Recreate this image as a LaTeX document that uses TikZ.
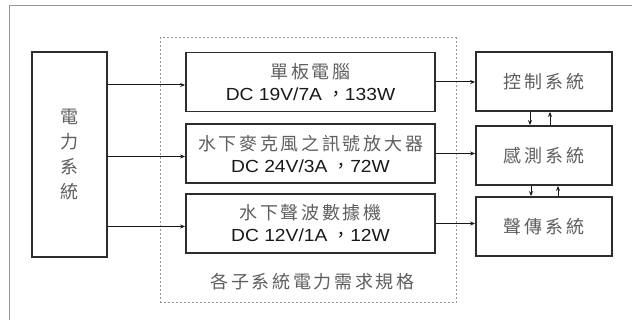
\documentclass[tikz,border=0pt]{standalone}
\usepackage{fontspec}
\setmainfont{Liberation Sans}[FakeStretch=1.1]
\newfontfamily\cjk{Noto Sans CJK TC}[LetterSpace=15]
\usetikzlibrary{arrows.meta,positioning}
\definecolor{frame}{RGB}{150,150,150}
\definecolor{edge}{RGB}{45,45,45}
\definecolor{hanzi}{RGB}{95,95,95}
\definecolor{ink}{RGB}{25,25,25}
\tikzset{
  >={Stealth[length=5pt,width=4pt]},
  blk/.style={draw=edge,line width=1.8pt,minimum width=#1,minimum height=59pt,
    inner sep=0pt,align=center},
  blk/.default=136pt,
  spec/.style={blk=249pt,font=\fontsize{17.5}{22}\selectfont},
  hz/.style={font=\cjk\fontsize{18}{25}\selectfont,text=hanzi,align=center},
  grp/.style={draw=frame,line width=1pt,dash pattern=on 2pt off 2pt},
  feed/.style={->,line width=1pt,draw=ink},
}
\newcommand{\dcline}[1]{{\color{ink}DC #1}}

\begin{document}
\begin{tikzpicture}[x=1pt,y=-1pt]
    \useasboundingbox[fill=white] (0,0) rectangle (632,320);
    \draw[frame,line width=1pt] (9,320) -- (9,6) -- (632,6);
    % power source
    \node[blk=75pt,minimum height=205pt,hz] (pwr) at (69.5,154.5) {電\\力\\系\\統};
    % sub systems and their power needs
    \node[grp,minimum width=296pt,minimum height=265pt] (grp) at (308,170.5) {};
    \node[spec] (sub1) at (310.5,82) {{\cjk\fontsize{18}{22}\selectfont\color{hanzi}單板電腦}\\\dcline{19V/7A {\cjk，}133W}};
    \node[spec] (sub2) at (310.5,153.5) {{\cjk\fontsize{18}{22}\selectfont\color{hanzi}水下麥克風之訊號放大器}\\\dcline{24V/3A {\cjk，}72W}};
    \node[spec] (sub3) at (310.5,223.5) {{\cjk\fontsize{18}{22}\selectfont\color{hanzi}水下聲波數據機}\\\dcline{12V/1A {\cjk，}12W}};
    \node[hz] (note) at (312.5,282) {各子系統電力需求規格};
    % systems on the right
    \node[blk,hz] (sys1) at (544,81.5) {控制系統};
    \node[blk,hz] (sys2) at (544,155.5) {感測系統};
    \node[blk,hz] (sys3) at (544,226.5) {聲傳系統};
    \foreach \i in {1,2,3}{
      \draw[feed] ([yshift=-3pt]pwr.east |- sub\i.west) -- ([yshift=-3pt]sub\i.west);
      \draw[feed] (sub\i.east) -- (sub\i.east -| sys\i.west);
    }
    \draw[feed] ([xshift=-14pt]sys1.south) -- ([xshift=-14pt]sys2.north);
    \draw[feed] ([xshift=6pt]sys2.north) -- ([xshift=6pt]sys1.south);
    \draw[feed] ([xshift=-13pt]sys2.south) -- ([xshift=-13pt]sys3.north);
    \draw[feed] ([xshift=14pt]sys3.north) -- ([xshift=14pt]sys2.south);
\end{tikzpicture}
\end{document}
